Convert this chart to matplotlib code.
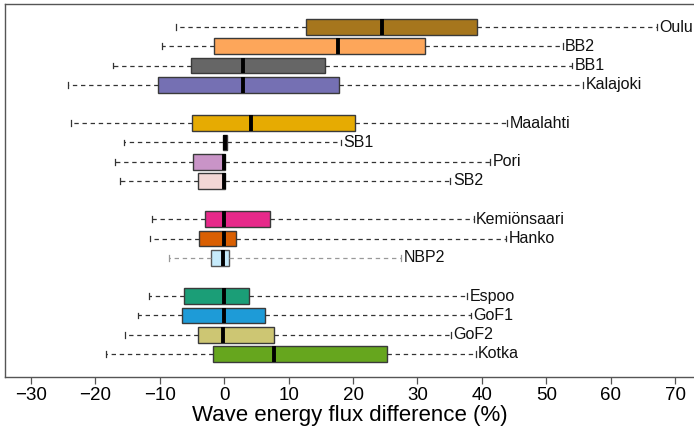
import matplotlib
matplotlib.use("Agg")
import matplotlib.pyplot as plt

plt.rcParams['font.family'] = ['Liberation Sans', 'DejaVu Sans']

# sites from top to bottom, blank rows separate the groups
sites = ['Oulu', 'BB2', 'BB1', 'Kalajoki',
         'Maalahti', 'SB1', 'Pori', 'SB2',
         'Kemiönsaari', 'Hanko', 'NBP2',
         'Espoo', 'GoF1', 'GoF2', 'Kotka']
rows = [1, 2, 3, 4, 6, 7, 8, 9, 11, 12, 13, 15, 16, 17, 18]

whislo = [-7.5, -9.6, -17.2, -24.3, -23.7, -15.6, -16.9, -16.1, -11.2, -11.5, -8.6, -11.7, -13.4, -15.4, -18.4]
q1 = [12.7, -1.5, -5.1, -10.2, -5.0, -0.15, -4.8, -4.1, -3.0, -3.9, -2.1, -6.3, -6.5, -4.0, -1.7]
med = [24.5, 17.6, 3.0, 3.0, 4.1, 0.2, -0.05, 0.0, 0.0, 0.0, -0.15, 0.0, 0.0, -0.1, 7.7]
q3 = [39.3, 31.1, 15.7, 17.8, 20.3, 0.45, 0.1, 0.1, 7.1, 1.9, 0.7, 3.9, 6.3, 7.8, 25.3]
whishi = [67.1, 52.5, 54.0, 55.7, 43.9, 18.1, 41.2, 35.1, 38.7, 43.8, 27.5, 37.7, 38.3, 35.2, 39.0]

colors = ['#a6761d', '#fda65a', '#666666', '#7570b3',
          '#e6ab02', '#a0208f', '#c994c7', '#f2d7d5',
          '#e7298a', '#d95f02', '#c6ebfb',
          '#1b9e77', '#1e9bd7', '#cdc673', '#66a61e']

stats = []
for i in range(len(sites)):
    stats.append(dict(label=sites[i], whislo=whislo[i], q1=q1[i], med=med[i],
                      q3=q3[i], whishi=whishi[i], fliers=[]))

fig = plt.figure(figsize=(6.94, 4.28), dpi=100)
ax = fig.add_axes([5/694, 1 - 377/428, 1 - 5/694, 373/428])

bp = ax.bxp(stats, positions=rows, vert=False, widths=0.82, patch_artist=True,
            showfliers=False, capwidths=0.3,
            boxprops=dict(edgecolor='#3a3a3a', linewidth=1.0),
            medianprops=dict(color='black', linewidth=2.8, solid_capstyle='butt'),
            whiskerprops=dict(color='#333333', linewidth=0.9, linestyle=(0, (3.5, 3))),
            capprops=dict(color='#333333', linewidth=0.9))

for i, box in enumerate(bp['boxes']):
    box.set_facecolor(colors[i])
    if sites[i] == 'NBP2':
        box.set_edgecolor('#555555')

# NBP2 has lighter whiskers
k = sites.index('NBP2')
for ln in bp['whiskers'][2*k:2*k+2] + bp['caps'][2*k:2*k+2]:
    ln.set_color('#999999')

for i in range(len(sites)):
    ax.text(whishi[i] + 0.4, rows[i], sites[i], va='center', ha='left',
            fontsize=11.5, color='#111111')

ax.set_xlim(-34.0, 72.9)
ax.set_ylim(19.2, -0.2)
ax.set_yticks([])
ax.set_xticks(range(-30, 71, 10))
ax.set_xticklabels(['\u221230', '\u221220', '\u221210', '0', '10', '20', '30', '40', '50', '60', '70'])
ax.tick_params(axis='x', labelsize=13.5, length=5, width=0.9, color='#555555', pad=2)
ax.set_xlabel('Wave energy flux difference (%)', fontsize=16, labelpad=1)

ax.spines['right'].set_visible(False)
for s in ['top', 'left', 'bottom']:
    ax.spines[s].set_color('#555555')
    ax.spines[s].set_linewidth(1.0)

fig.savefig('out.png', dpi=100)
